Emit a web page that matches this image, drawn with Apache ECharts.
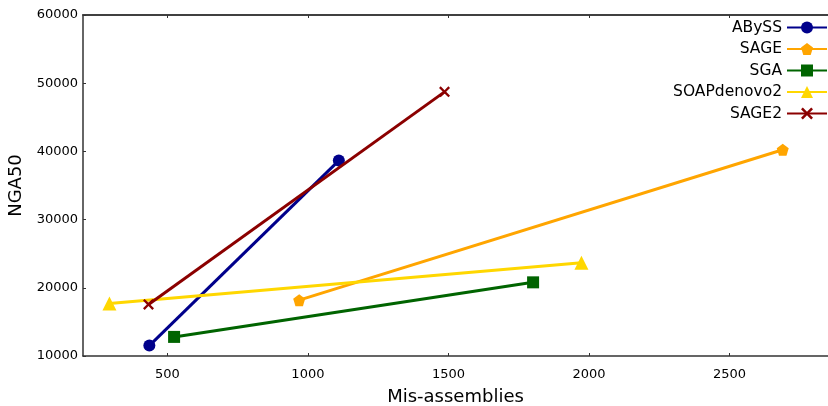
<!DOCTYPE html>
<html>
<head>
<meta charset="utf-8">
<script src="https://cdn.jsdelivr.net/npm/echarts@6/dist/echarts.min.js"></script>
<style>html,body{margin:0;padding:0;background:#fff}#c{width:828px;height:406px}</style>
</head>
<body>
<div id="c"></div>
<script>
const seriesNames = ['ABySS', 'SAGE', 'SGA', 'SOAPdenovo2', 'SAGE2'];
const abyss = [[436, 11530], [1110, 38650]];
const sage = [[969, 18190], [2689, 40250]];
const sga = [[524, 12800], [1801, 20800]];
const soap = [[294, 17700], [1973, 23680]];
const sage2 = [[433, 17560], [1486, 48730]];
const xTicks = [500, 1000, 1500, 2000, 2500];
const yTicks = [10000, 20000, 30000, 40000, 50000, 60000];

const colors = ['#00008B', '#FFA500', '#006400', '#FFD700', '#8B0000'];
const symbols = [
  'circle',
  'path://M0,-10 L9.5,-3.1 L5.9,8.1 L-5.9,8.1 L-9.5,-3.1 Z',
  'rect',
  'triangle',
  'path://M-10,-7 L-7,-10 L0,-3 L7,-10 L10,-7 L3,0 L10,7 L7,10 L0,3 L-7,10 L-10,7 L-3,0 Z'
];
const sizes = [12, 12, 12, 14, 11];
const datas = [abyss, sage, sga, soap, sage2];
const font = 'DejaVu Sans';

const chart = echarts.init(document.getElementById('c'));
chart.setOption({
  animation: false,
  backgroundColor: '#fff',
  grid: { left: 83, right: 0, top: 15, bottom: 50, outerBoundsMode: 'none', containLabel: false },
  legend: {
    orient: 'vertical', right: 0, top: 19.5, align: 'right', padding: 0,
    itemWidth: 40, itemHeight: 15, itemGap: 5.5,
    textStyle: { fontFamily: font, fontSize: 15.5, color: '#000', lineHeight: 15 },
    data: seriesNames
  },
  xAxis: [{
    type: 'value', min: 200, max: 2850,
    name: 'Mis-assemblies', nameLocation: 'middle', nameGap: 32,
    nameTextStyle: { fontFamily: font, fontSize: 18, color: '#000' },
    axisLine: { lineStyle: { color: '#333', width: 1.5 } },
    axisTick: { inside: true, length: 3, customValues: xTicks, lineStyle: { color: '#333' } },
    axisLabel: { customValues: xTicks, fontFamily: font, fontSize: 13, color: '#000', margin: 12, formatter: v => String(v) },
    splitLine: { show: false }
  }, {
    type: 'value', min: 200, max: 2850, position: 'top',
    axisLine: { show: true, lineStyle: { color: '#404040', width: 2 } },
    axisTick: { show: true, inside: true, length: 3, customValues: xTicks, lineStyle: { color: '#333' } },
    axisLabel: { show: false },
    splitLine: { show: false }
  }],
  yAxis: {
    type: 'value', min: 10000, max: 60000, interval: 10000,
    name: 'NGA50', nameLocation: 'middle', nameGap: 55,
    nameTextStyle: { fontFamily: font, fontSize: 18, color: '#000' },
    axisLine: { show: true, lineStyle: { color: '#333', width: 1.5 } },
    axisTick: { show: true, inside: true, length: 3, lineStyle: { color: '#333' } },
    axisLabel: { fontFamily: font, fontSize: 13, color: '#000', margin: 5, formatter: v => String(v) },
    splitLine: { show: false }
  },
  series: seriesNames.map((n, i) => ({
    name: n, type: 'line', data: datas[i],
    symbol: symbols[i], symbolSize: sizes[i],
    itemStyle: { color: colors[i] },
    lineStyle: { color: colors[i], width: 3 },
    z: 2 + i
  }))
});
</script>
</body>
</html>
